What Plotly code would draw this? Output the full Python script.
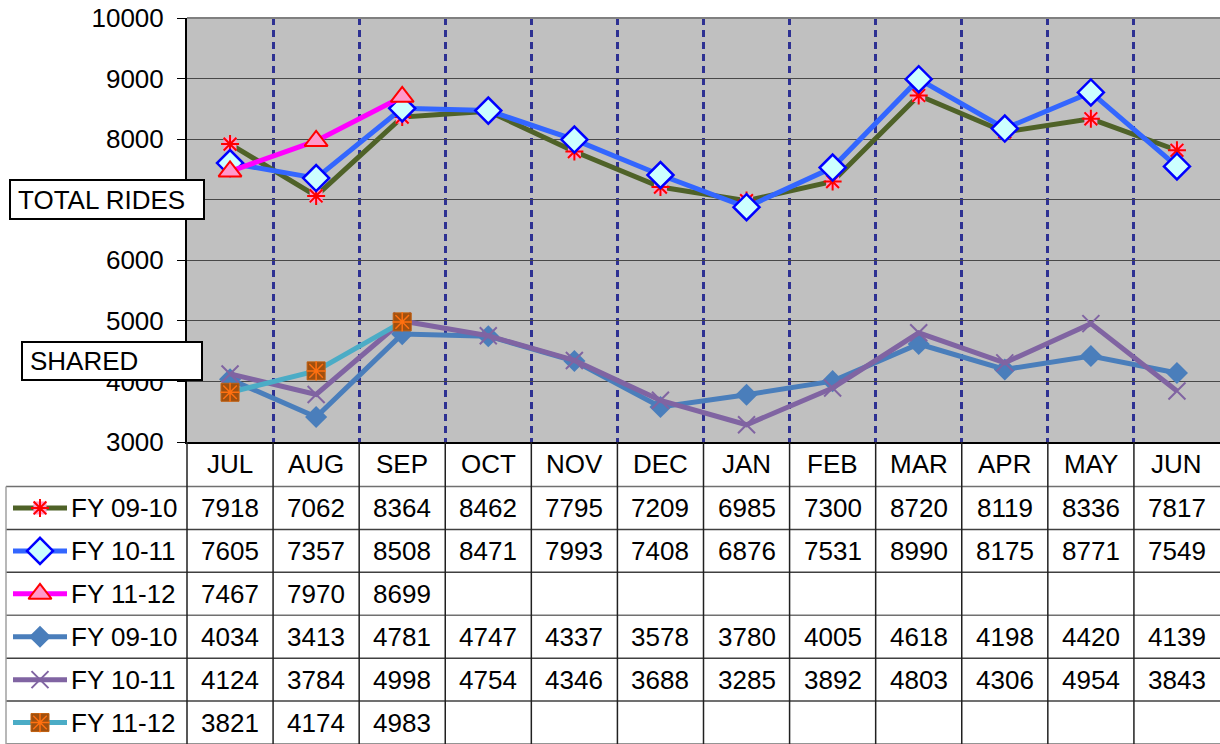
import plotly.graph_objects as go

months = ["JUL", "AUG", "SEP", "OCT", "NOV", "DEC", "JAN", "FEB", "MAR", "APR", "MAY", "JUN"]
series_names = ["FY 09-10", "FY 10-11", "FY 11-12", "FY 09-10", "FY 10-11", "FY 11-12"]
total_0910 = [7918, 7062, 8364, 8462, 7795, 7209, 6985, 7300, 8720, 8119, 8336, 7817]
total_1011 = [7605, 7357, 8508, 8471, 7993, 7408, 6876, 7531, 8990, 8175, 8771, 7549]
total_1112 = [7467, 7970, 8699]
shared_0910 = [4034, 3413, 4781, 4747, 4337, 3578, 3780, 4005, 4618, 4198, 4420, 4139]
shared_1011 = [4124, 3784, 4998, 4754, 4346, 3688, 3285, 3892, 4803, 4306, 4954, 3843]
shared_1112 = [3821, 4174, 4983]
y_ticks = [3000, 4000, 5000, 6000, 7000, 8000, 9000, 10000]
y_tick_labels = ["3000", "4000", "5000", "6000", "7000", "8000", "9000", "10000"]

all_series = [total_0910, total_1011, total_1112, shared_0910, shared_1011, shared_1112]

W, H = 1220, 744
PL, PR, PT, PB = 187, 1220, 18, 442
FONT = "Liberation Sans, Arial, sans-serif"
FS = 26

styles = [
    ("#4F6228", dict(symbol="square", size=13, color="#FF99CC", line=dict(width=0)),
     dict(symbol="asterisk-open", size=15, color="#FF0000", line=dict(width=2, color="#FF0000"))),
    ("#3366FF", dict(symbol="diamond", size=20, color="#CCFFFF", line=dict(width=2.5, color="#0000FF")), None),
    ("#FF00FF", dict(symbol="triangle-up", size=20, color="#FF99CC", line=dict(width=2, color="#FF0000")), None),
    ("#4A7EBB", dict(symbol="diamond", size=17, color="#4A7EBB", line=dict(width=0)), None),
    ("#8064A2", dict(symbol="x-thin-open", size=17, color="#8064A2", line=dict(width=2, color="#8064A2")), None),
    ("#4BACC6", dict(symbol="square", size=18, color="#A0500F", line=dict(width=1, color="#C06010")),
     dict(symbol="asterisk-open", size=16, color="#FF7010", line=dict(width=1.5, color="#FF7010"))),
]

fig = go.Figure()

draw_order = [3, 4, 5, 0, 1, 2]
for i in draw_order:
    vals = all_series[i]
    lc, mk, ov = styles[i]
    xs = list(range(len(vals)))
    fig.add_trace(go.Scatter(x=xs, y=vals, mode="lines+markers",
                             line=dict(color=lc, width=5), marker=mk,
                             showlegend=False, hoverinfo="skip", xaxis="x", yaxis="y"))
    if ov:
        fig.add_trace(go.Scatter(x=xs, y=vals, mode="markers", marker=ov,
                                 showlegend=False, hoverinfo="skip", xaxis="x", yaxis="y"))

ncol = len(months)
cw = (PR - PL) / ncol
hdr_bottom = 486.5
rh = (H - hdr_bottom) / len(series_names)
TL = 6
shapes = []
annotations = []

shapes.append(dict(type="rect", xref="x domain", yref="y domain", x0=0, x1=1, y0=0, y1=1,
                   fillcolor="#C0C0C0", line=dict(width=0), layer="below"))
shapes.append(dict(type="line", xref="x domain", yref="y domain", x0=0, x1=1, y0=1, y1=1,
                   line=dict(color="#808080", width=2)))

for r in range(len(series_names) + 1):
    yy = hdr_bottom + r * rh
    shapes.append(dict(type="line", xref="x2", yref="y2", x0=TL, x1=PR, y0=yy, y1=yy,
                       line=dict(color="#707070" if r % 3 == 0 else "#404040", width=1.5)))
shapes.append(dict(type="line", xref="x2", yref="y2", x0=TL, x1=TL, y0=hdr_bottom, y1=H,
                   line=dict(color="#A0A0A0", width=1.5)))
for c in range(ncol):
    xx = PL + c * cw
    shapes.append(dict(type="line", xref="x2", yref="y2", x0=xx, x1=xx, y0=PB, y1=H,
                       line=dict(color="#202020", width=1.5)))

for c, m in enumerate(months):
    annotations.append(dict(x=PL + (c + 0.5) * cw, y=(PB + hdr_bottom) / 2, xref="x2", yref="y2",
                            text=m, showarrow=False, font=dict(size=FS, color="black", family=FONT)))

for r, name in enumerate(series_names):
    yc = hdr_bottom + (r + 0.5) * rh
    vals = all_series[r]
    for c, v in enumerate(vals):
        annotations.append(dict(x=PL + (c + 0.5) * cw, y=yc, xref="x2", yref="y2",
                                text=str(v), showarrow=False,
                                font=dict(size=FS, color="black", family=FONT)))
    annotations.append(dict(x=69, y=yc, xref="x2", yref="y2", text=name, showarrow=False,
                            xanchor="left", font=dict(size=FS, color="black", family=FONT)))
    lc, mk, ov = styles[r]
    fig.add_trace(go.Scatter(x=[13, 40, 67], y=[yc, yc, yc], mode="lines",
                             line=dict(color=lc, width=5), showlegend=False, hoverinfo="skip",
                             xaxis="x2", yaxis="y2"))
    fig.add_trace(go.Scatter(x=[40], y=[yc], mode="markers", marker=mk, showlegend=False,
                             hoverinfo="skip", xaxis="x2", yaxis="y2"))
    if ov:
        fig.add_trace(go.Scatter(x=[40], y=[yc], mode="markers", marker=ov, showlegend=False,
                                 hoverinfo="skip", xaxis="x2", yaxis="y2"))

for label, x0, x1, y0, y1 in [("TOTAL RIDES", 10, 204, 180, 219), ("SHARED", 22, 202, 342, 380)]:
    shapes.append(dict(type="rect", xref="x2", yref="y2", x0=x0, x1=x1, y0=y0, y1=y1,
                       fillcolor="white", line=dict(color="black", width=2)))
    annotations.append(dict(x=x0 + 6, y=(y0 + y1) / 2, xref="x2", yref="y2", text=label,
                            showarrow=False, xanchor="left",
                            font=dict(size=FS, color="black", family=FONT)))

fig.update_layout(
    template="none",
    width=W, height=H, margin=dict(l=0, r=0, t=0, b=0, pad=0),
    paper_bgcolor="white", plot_bgcolor="rgba(0,0,0,0)",
    showlegend=False,
    xaxis=dict(domain=[PL / W, PR / W], range=[-0.5, 11.5], automargin=False,
               tickvals=[k + 0.5 for k in range(ncol - 1)], showticklabels=False,
               showgrid=True, gridcolor="#2E3192", gridwidth=2.5, griddash="7px,5px",
               zeroline=False, showline=True, linecolor="black", linewidth=2, ticks=""),
    yaxis=dict(domain=[(H - PB) / H, (H - PT) / H], range=[3000, 10000], automargin=False,
               tickvals=y_ticks, ticktext=y_tick_labels,
               showgrid=True, gridcolor="#484848", gridwidth=1.2, zeroline=False,
               showline=True, linecolor="black", linewidth=2, ticks="outside", ticklen=8,
               tickcolor="black", tickwidth=1, ticklabelstandoff=8,
               tickfont=dict(size=FS, color="black", family=FONT)),
    xaxis2=dict(domain=[0, 1], range=[0, W], visible=False, anchor="y2", fixedrange=True,
                automargin=False),
    yaxis2=dict(domain=[0, 1], range=[H, 0], visible=False, anchor="x2", fixedrange=True,
                automargin=False),
    shapes=shapes, annotations=annotations,
)

fig.write_html("out.html", config={"displayModeBar": False},
               post_script="document.body.style.margin='0px';")
